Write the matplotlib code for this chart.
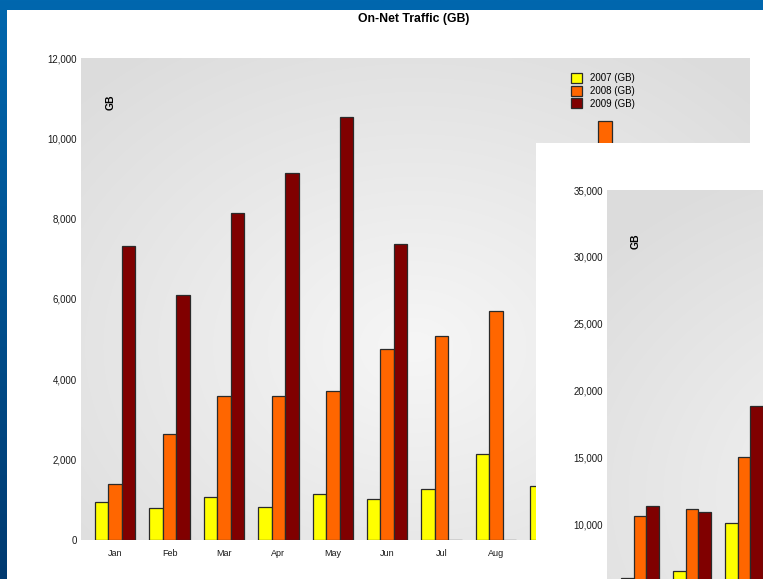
import matplotlib.pyplot as plt
import numpy as np
from matplotlib.patches import Rectangle
from matplotlib.colors import LinearSegmentedColormap
from matplotlib.ticker import FuncFormatter

# main chart (on-net traffic)
months = ['Jan', 'Feb', 'Mar', 'Apr', 'May', 'Jun', 'Jul', 'Aug', 'Sep', 'Oct', 'Nov', 'Dec']
nan = np.nan
gb_2007 = [950, 800, 1070, 820, 1150, 1020, 1270, 2150, 1350, nan, nan, nan]
gb_2008 = [1400, 2640, 3590, 3590, 3720, 4760, 5090, 5710, nan, 10430, nan, nan]
gb_2009 = [7330, 6110, 8130, 9130, 10530, 7380, 0, 0, nan, nan, nan, nan]
series_labels = ['2007 (GB)', '2008 (GB)', '2009 (GB)']
main_ticks = [0, 2000, 4000, 6000, 8000, 10000, 12000]

# second (overlapping) chart, only the first three groups are visible
months2 = ['Jan', 'Feb', 'Mar']
tot_2007 = [5960, 6480, 10070]
tot_2008 = [10600, 11120, 15000]
tot_2009 = [11350, 10900, 18830]
second_ticks = [10000, 15000, 20000, 25000, 30000, 35000]  # lower ones are off-screen

colors = ['#ffff00', '#ff6600', '#800000']
W, H = 763, 579
plt.rcParams['font.family'] = ['Liberation Sans', 'DejaVu Sans']


def fx(px):
    return px / W


def fy(py):
    return 1 - py / H


def shaded_bg(ax, cx=0.5, cy=0.4):
    # soft grey radial fill like the original plot area
    xx, yy = np.meshgrid(np.linspace(0, 1, 200), np.linspace(1, 0, 200))
    r = np.sqrt(((xx - cx) / 0.7) ** 2 + ((yy - cy) / 0.75) ** 2)
    c = 0.965 - 0.1 * np.clip(r, 0, 1)
    img = np.dstack([c, c, c])
    ax.imshow(img, extent=[0, 1, 0, 1], transform=ax.transAxes,
              aspect='auto', zorder=0, interpolation='bilinear')


def style_axes(ax, ticks):
    for s in ax.spines.values():
        s.set_visible(False)
    ax.set_yticks(ticks)
    ax.yaxis.set_major_formatter(FuncFormatter(lambda v, p: f'{v:,.0f}'))
    ax.tick_params(axis='y', length=0, labelsize=7, pad=3, labelcolor='#1a1a1a')
    ax.tick_params(axis='x', length=0, labelsize=6.5, pad=6.5, labelcolor='#1a1a1a')


def draw_bars(ax, a, b, c, labels):
    x = np.arange(len(labels))
    w = 0.247
    bars = []
    for off, vals, col in zip([-w, 0, w], [a, b, c], colors):
        bars.append(ax.bar(x + off, vals, w, color=col, edgecolor='#2a2a2a',
                           linewidth=0.9, zorder=2))
    ax.set_xticks(x)
    ax.set_xticklabels(labels)
    return bars


fig = plt.figure(figsize=(7.63, 5.79), dpi=100)

# blue page background
bg = fig.add_axes([0, 0, 1, 1], zorder=0)
bg.axis('off')
blue = LinearSegmentedColormap.from_list('blue', ['#0067ae', '#003a70'])
bg.imshow(np.linspace(0, 1, 256).reshape(-1, 1), cmap=blue, aspect='auto',
          extent=[0, 1, 0, 1])

# white panel of the main chart
fig.patches.append(Rectangle((fx(7), 0), 1, fy(10), transform=fig.transFigure,
                             facecolor='white', edgecolor='none', zorder=0.5))

fig.text(fx(414), fy(19), 'On-Net Traffic (GB)', ha='center', va='center',
         fontsize=8.8, fontweight='bold', zorder=1)

ax = fig.add_axes([fx(81), fy(540), fx(750 - 81), (540 - 58) / H], zorder=1)
shaded_bg(ax)
bars = draw_bars(ax, gb_2007, gb_2008, gb_2009, months)
style_axes(ax, main_ticks)
ax.set_ylim(0, 12000)
ax.set_xlim(-0.5 - 7 / 54.4, -0.5 - 7 / 54.4 + 669 / 54.4)
ax.text(fx(111), fy(102), 'GB', transform=fig.transFigure, rotation=90,
        ha='center', va='center', fontsize=7.5, fontweight='bold')
ax.legend(bars, series_labels, loc='upper left',
          bbox_to_anchor=(fx(571), fy(73)), bbox_transform=fig.transFigure,
          frameon=False, fontsize=7, handlelength=1.1, handleheight=1.2,
          handletextpad=0.9, labelspacing=0.25, borderpad=0, borderaxespad=0)

# second panel lying on top of the first one
fig.patches.append(Rectangle((fx(536), -0.5), 1, fy(143) + 0.5,
                             transform=fig.transFigure, facecolor='white',
                             edgecolor='none', zorder=2))

ax2 = fig.add_axes([fx(607), fy(657.6), fx(640), (657.6 - 190) / H], zorder=3)
shaded_bg(ax2, cx=0.5, cy=0.35)
draw_bars(ax2, tot_2007, tot_2008, tot_2009, months2)
style_axes(ax2, second_ticks)
# month labels of this chart fall below the screenshot
ax2.tick_params(axis='x', labelbottom=False)
ax2.set_ylim(0, 35000)
ax2.set_xlim(-0.5 - 7 / 52, -0.5 - 7 / 52 + 640 / 52)
ax2.text(fx(636), fy(241), 'GB', transform=fig.transFigure, rotation=90,
         ha='center', va='center', fontsize=7.5, fontweight='bold')

fig.savefig('out.png', dpi=100)
